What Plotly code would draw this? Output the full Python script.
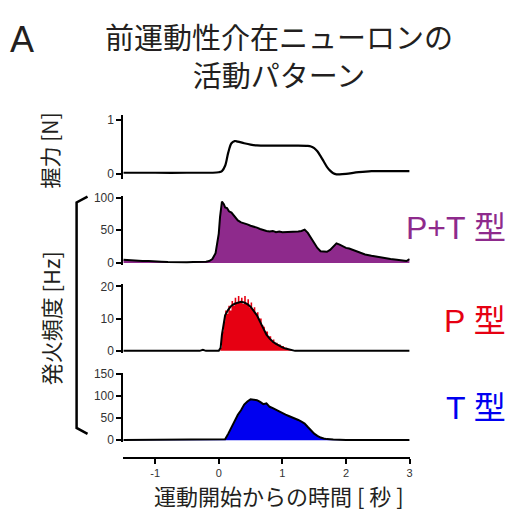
import plotly.graph_objects as go

# ---------------- data ----------------
grip_t = [-1.5, -1.0, -0.5, 0.0, 0.05, 0.1, 0.15, 0.2, 0.25, 0.3, 0.4, 0.5, 0.6, 0.8, 1.0,
          1.2, 1.4, 1.45, 1.5, 1.55, 1.6, 1.65, 1.7, 1.75, 1.8, 1.85, 1.9, 2.0, 2.2, 2.4, 2.6, 3.0]
grip_v = [0.02, 0.02, 0.02, 0.03, 0.05, 0.15, 0.4, 0.57, 0.61, 0.6, 0.57, 0.545, 0.53, 0.525, 0.525,
          0.525, 0.52, 0.51, 0.48, 0.42, 0.33, 0.23, 0.13, 0.06, 0.01, -0.01, -0.01, 0.0, 0.03, 0.05, 0.05, 0.05]

pt_t = [-1.5, -1.4, -1.3, -1.2, -1.1, -1.0, -0.9, -0.8, -0.7, -0.6, -0.5, -0.4, -0.3, -0.2, -0.15,
        -0.1, -0.05, 0.0, 0.02, 0.05, 0.08, 0.1, 0.13, 0.16, 0.2, 0.25, 0.3, 0.35, 0.4, 0.45, 0.5,
        0.55, 0.6, 0.65, 0.7, 0.75, 0.8, 0.85, 0.9, 0.95, 1.0, 1.05, 1.1, 1.15, 1.2, 1.25, 1.3,
        1.35, 1.4, 1.45, 1.5, 1.55, 1.6, 1.65, 1.7, 1.75, 1.8, 1.85, 1.9, 1.95, 2.0, 2.05, 2.1,
        2.2, 2.3, 2.4, 2.5, 2.6, 2.7, 2.8, 2.9, 2.95, 3.0]
pt_v = [5, 4, 4, 3, 3, 2, 2, 1.5, 1, 1, 1, 1.5, 1.5, 2, 3,
        6, 15, 45, 70, 94, 90, 85, 84, 79, 77, 70, 65, 62, 61, 59, 57,
        56, 54, 52, 50, 49, 48, 49, 47, 48, 47, 47, 48, 47, 47, 48, 49,
        51, 46, 38, 30, 23, 18, 17, 17, 20, 25, 30, 28, 25, 23, 22, 20,
        17, 13, 11, 9, 8, 6, 5, 4, 3, 6]

p_t = [-1.5, -0.3, -0.25, -0.2, 0.0, 0.03, 0.05, 0.08, 0.1, 0.15, 0.2, 0.25, 0.3, 0.35, 0.4,
       0.45, 0.5, 0.55, 0.6, 0.65, 0.7, 0.75, 0.8, 0.85, 0.9, 0.95, 1.0, 1.05, 1.1, 1.15, 1.2, 3.0]
p_v = [0, 0, 0.3, 0, 0, 1, 5, 9, 11, 12.8, 14, 14.6, 15, 15.2, 15,
       14.5, 13.7, 12.5, 11, 9, 7, 5, 3.8, 2.8, 2.2, 1.6, 1.1, 0.7, 0.4, 0.2, 0, 0]

p_bar_t = [0.0, 0.025, 0.05, 0.075, 0.1, 0.125, 0.15, 0.175, 0.2, 0.225, 0.25, 0.275, 0.3, 0.325,
           0.35, 0.375, 0.4, 0.425, 0.45, 0.475, 0.5, 0.525, 0.55, 0.575, 0.6, 0.625, 0.65, 0.675,
           0.7, 0.725, 0.75, 0.775, 0.8, 0.825, 0.85, 0.875, 0.9, 0.925, 0.95, 0.975, 1.0, 1.025,
           1.05, 1.075, 1.1, 1.125, 1.15, 1.175, 1.2]
p_bar_v = [0, 1, 6, 9, 12.5, 11.5, 14, 12.5, 15.5, 14, 16.5, 14.5, 17, 15,
           16.5, 14.5, 17, 14.5, 16, 13.5, 15, 13, 13.5, 11.5, 12, 10, 10, 8,
           7.5, 6, 6, 4.5, 4.5, 3, 3.5, 2.5, 2.5, 2, 2, 1.5, 1.5, 1,
           1, 0.6, 0.6, 0.3, 0.3, 0.1, 0]

t_t = [-1.5, -0.2, 0.05, 0.1, 0.15, 0.2, 0.25, 0.3, 0.35, 0.4, 0.45, 0.5, 0.55, 0.6, 0.65, 0.7,
       0.75, 0.8, 0.85, 0.9, 0.95, 1.0, 1.05, 1.1, 1.15, 1.2, 1.25, 1.3, 1.35, 1.4, 1.45, 1.5,
       1.55, 1.6, 1.65, 1.7, 1.8, 1.9, 2.0, 3.0]
t_v = [0.5, 0.5, 0.5, 2, 15, 30, 45, 58, 68, 81, 88, 93, 92, 91, 87, 82,
       84, 76, 73, 69, 65, 62, 58, 55, 52, 50, 46, 42, 38, 30, 22, 15,
       10, 6, 4, 2.5, 1.5, 1, 0.5, 0.5]

x_ticks = [-1, 0, 1, 2, 3]
x_labels = ["-1", "0", "1", "2", "3"]
grip_ticks = [0, 1]
pt_ticks = [0, 50, 100]
p_ticks = [0, 10, 20]
t_ticks = [0, 50, 100, 150]

PURPLE = "#8e2a8c"
RED = "#e60012"
BLUE = "#0000f0"
TXT = "#231f20"
JP = "Noto Sans CJK JP"
LAT = "Liberation Sans, Arial, Noto Sans CJK JP"

# page body has an 8px margin: the figure is placed at (8, 8) in the window
OFF = 8
W, H = 518 - OFF, 515 - OFF
def px(x): return (x - OFF) / W
def py(y): return 1 - (y - OFF) / H

fig = go.Figure()
fig.add_trace(go.Scatter(x=grip_t, y=grip_v, mode="lines", line=dict(color="black", width=2.2, shape="spline"),
                         xaxis="x", yaxis="y", showlegend=False))
fig.add_trace(go.Scatter(x=pt_t, y=pt_v, mode="lines", fill="tozeroy", fillcolor=PURPLE,
                         line=dict(color="black", width=2), xaxis="x2", yaxis="y2", showlegend=False))
fig.add_trace(go.Scatter(x=p_bar_t, y=p_bar_v, mode="none", fill="tozeroy", fillcolor=RED,
                         line=dict(shape="hv"), xaxis="x3", yaxis="y3", showlegend=False))
fig.add_trace(go.Scatter(x=p_t, y=p_v, mode="lines", line=dict(color="black", width=2),
                         xaxis="x3", yaxis="y3", showlegend=False))
fig.add_trace(go.Scatter(x=t_t, y=t_v, mode="lines", fill="tozeroy", fillcolor=BLUE,
                         line=dict(color="black", width=2), xaxis="x4", yaxis="y4", showlegend=False))

xdom = [px(124), px(412)]
hidden_x = dict(domain=xdom, range=[-1.5, 3.0], visible=False)
yax = dict(showline=True, linecolor="black", linewidth=2, ticks="outside", ticklen=5, tickwidth=1.5,
           tickcolor="black", showgrid=False, zeroline=False,
           tickfont=dict(family=LAT, size=12, color="#333"))

fig.update_layout(
    width=W, height=H, margin=dict(l=0, r=0, t=0, b=0),
    paper_bgcolor="white", plot_bgcolor="rgba(0,0,0,0)",
    xaxis=dict(hidden_x, anchor="y"),
    xaxis2=dict(hidden_x, anchor="y2"),
    xaxis3=dict(hidden_x, anchor="y3"),
    xaxis4=dict(domain=xdom, range=[-1.5, 3.0], anchor="free", position=py(463), showline=True,
                linecolor="black", linewidth=2, ticks="outside", ticklen=5, tickwidth=1.5,
                tickcolor="black", tickvals=x_ticks, ticktext=x_labels, showgrid=False, zeroline=False,
                tickfont=dict(family=LAT, size=11, color="#333")),
    yaxis=dict(yax, domain=[py(177.2), py(111.2)], range=[-0.1, 1.1], tickvals=grip_ticks, anchor="x"),
    yaxis2=dict(yax, domain=[py(265), py(194.7)], range=[-3, 102], tickvals=pt_ticks, anchor="x2"),
    yaxis3=dict(yax, domain=[py(355), py(285)], range=[-0.6, 20.6], tickvals=p_ticks, anchor="x3"),
    yaxis4=dict(yax, domain=[py(445.9), py(376.1)], range=[-3, 152], tickvals=t_ticks, anchor="x4"),
)

def ann(text, x, y, size, color=TXT, family=JP, xanchor="center", angle=0):
    fig.add_annotation(text=text, x=px(x), y=py(y), xref="paper", yref="paper", showarrow=False,
                       xanchor=xanchor, yanchor="middle", textangle=angle,
                       font=dict(family=family, size=size, color=color))

ann("A", 22, 34, 36, family=LAT)
ann("前運動性介在ニューロンの<br>活動パターン", 281, 50, 29)
ann("P+T 型", 511, 227, 32, color=PURPLE, family=LAT, xanchor="right")
ann("P 型", 511, 322, 32, color=RED, family=LAT, xanchor="right")
ann("T 型", 511, 412, 32, color=BLUE, family=LAT, xanchor="right")
ann("握力 [N]", 49, 148, 21, angle=-90)
ann("発火頻度 [Hz]", 50, 320, 22, angle=-90)
ann("運動開始からの時間 [ 秒 ]", 281, 501, 22)

# bracket grouping the firing-rate panels
fig.add_shape(type="path", xref="paper", yref="paper",
              path=f"M {px(88)},{py(195)} L {px(77)},{py(201)} L {px(77)},{py(432)} L {px(88)},{py(438)}",
              line=dict(color="black", width=2.5))

fig.write_html("out.html")
